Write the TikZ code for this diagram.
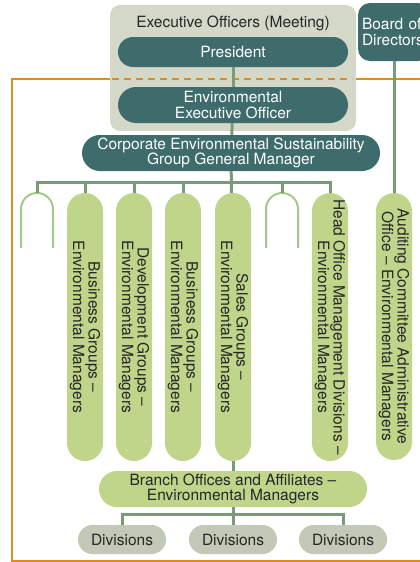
\documentclass[tikz,border=0pt]{standalone}
\usepackage{fontspec}
\setmainfont{TeX Gyre Heros}
\usepackage{tikz}
\usetikzlibrary{positioning}
\definecolor{teal}{HTML}{3E6B6B}
\definecolor{execbg}{HTML}{D3D8C9}
\definecolor{linkgreen}{HTML}{7A9B78}
\definecolor{leaf}{HTML}{BED58A}
\definecolor{archline}{HTML}{A5C98A}
\definecolor{frame}{HTML}{DF8A22}
\definecolor{divbg}{HTML}{C2C9B6}

\tikzset{
  pill/.style={fill=teal,text=white,align=center,inner sep=0pt},
  pillar/.style={fill=leaf,text=black!85,align=center,inner sep=0pt,rotate=-90,
    minimum width=268pt,minimum height=36pt,rounded corners=18pt},
  link/.style={draw=linkgreen,line width=3pt},
  arch/.style={draw=archline,line width=2pt}
}

\begin{document}
\begin{tikzpicture}[x=1pt,y=-1pt,every node/.style={font=\fontsize{15.5}{15.5}\selectfont}]
\useasboundingbox (0,0) rectangle (420,562);
\clip (0,0) rectangle (420,562);

% executive officers box
\node[fill=execbg,rounded corners=10pt,minimum width=246pt,minimum height=126pt,inner sep=0pt] (exec) at (233,68) {};
\node[text=black!85] (title) at (233,23) {Executive Officers (Meeting)};

% orange frame
\draw[frame,line width=2.7pt] (430,561) -- (12,561) -- (12,79) -- (110,79);
\draw[frame,line width=2.7pt,dash pattern=on 7pt off 5pt] (112,79) -- (352,79);
\draw[frame,line width=2.7pt] (356,79) -- (430,79);

\node[pill,rounded corners=15pt,minimum width=230pt,minimum height=30pt] (pres) at (233,52) {President};
\node[pill,rounded corners=18pt,minimum width=230pt,minimum height=36pt] (eeo) at (233,105) {Environmental\\Executive Officer};
\node[pill,rounded corners=18pt,minimum width=298pt,minimum height=36pt] (cesg) at (231,153) {Corporate Environmental Sustainability\\Group General Manager};
\node[pill,rounded corners=12pt,minimum width=72pt,minimum height=58pt,text width=64pt,inner sep=4pt,align=left] (board) at (394,32) {Board of\\Directors};

% pillars
\node[pillar] (p2) at (85,327) {Business Groups --\\Environmental Managers};
\node[pillar] (p3) at (134,327) {Development Groups --\\Environmental Managers};
\node[pillar] (p4) at (183,327) {Business Groups --\\Environmental Managers};
\node[pillar] (p5) at (233,327) {Sales Groups --\\Environmental Managers};
\node[pillar] (p7) at (330,327) {Head Office Management Divisions --\\Environmental Managers};
\node[pillar,minimum width=267pt] (aud) at (394,326.5) {Auditing Committee Administrative\\Office -- Environmental Managers};

% open arches
\coordinate (a1) at (37,193);
\coordinate (a6) at (282,193);
\draw[arch] (21,248) -- (21,209) arc[start angle=180,end angle=360,radius=16] -- (53,248);
\draw[arch] (266,248) -- (266,209) arc[start angle=180,end angle=360,radius=16] -- (298,248);

\node[fill=leaf,text=black!85,align=center,inner sep=0pt,rounded corners=18pt,minimum width=268pt,minimum height=36pt] (branch) at (233,489) {Branch Offices and Affiliates --\\Environmental Managers};

\node[fill=divbg,text=black!85,inner sep=0pt,rounded corners=14.5pt,minimum width=88pt,minimum height=29pt] (d1) at (122,539.5) {Divisions};
\node[fill=divbg,text=black!85,inner sep=0pt,rounded corners=14.5pt,minimum width=88pt,minimum height=29pt] (d2) at (233,539.5) {Divisions};
\node[fill=divbg,text=black!85,inner sep=0pt,rounded corners=14.5pt,minimum width=88pt,minimum height=29pt] (d3) at (343,539.5) {Divisions};

\coordinate (bus) at (233,182);
\coordinate (bus2) at (233,514);
\path[link]
  (pres) edge (eeo)
  (eeo) edge (cesg)
  (cesg) edge (p5)
  (board) edge (aud)
  (p5) edge (branch)
  (branch) edge (d2);
\draw[link] (bus) -| (a1);
\draw[link] (bus) -| (p2);
\draw[link] (bus) -| (p3);
\draw[link] (bus) -| (p4);
\draw[link] (bus) -| (a6);
\draw[link] (bus) -| (p7);
\draw[link] (bus2) -| (d1);
\draw[link] (bus2) -| (d3);
\end{tikzpicture}
\end{document}
